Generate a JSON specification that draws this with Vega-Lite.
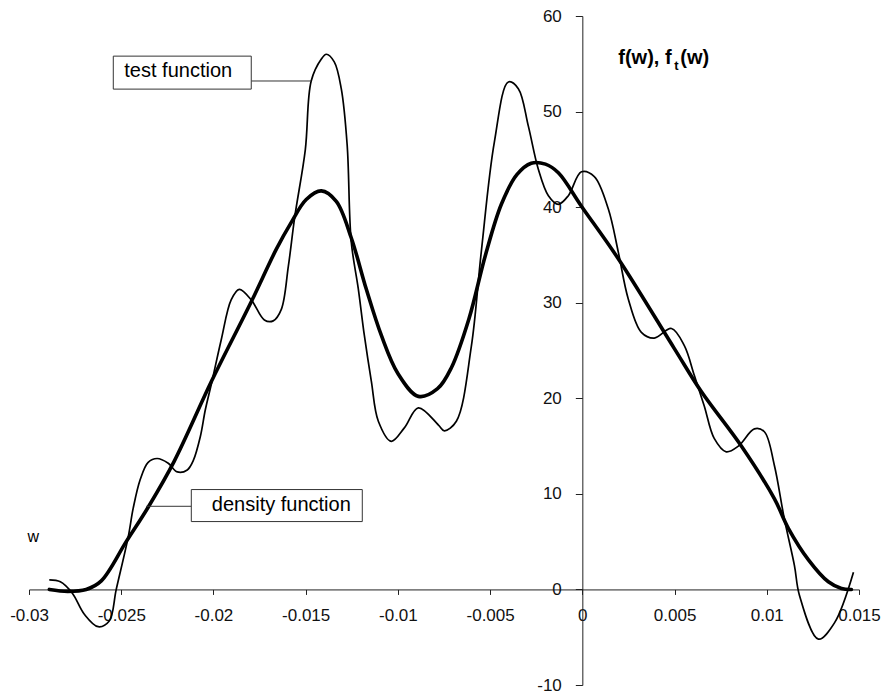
{
  "$schema": "https://vega.github.io/schema/vega-lite/v6.json",
  "width": 830,
  "height": 669,
  "autosize": "none",
  "padding": {"left": 29, "top": 16, "right": 23, "bottom": 10},
  "background": "white",
  "config": {
    "view": {"stroke": null},
    "font": "Liberation Sans",
    "axis": {
      "grid": false,
      "title": null,
      "domainColor": "#222",
      "tickColor": "#222",
      "labelColor": "#111",
      "labelFont": "Liberation Sans",
      "labelFontSize": 17,
      "labelOverlap": false,
      "labelFlush": false
    }
  },
  "datasets": {
    "density": [
      {"w": -0.0289, "f": 0.0},
      {"w": -0.0279, "f": -0.2},
      {"w": -0.0269, "f": 0.0},
      {"w": -0.02608, "f": 0.9},
      {"w": -0.02473, "f": 5.0},
      {"w": -0.02354, "f": 8.6},
      {"w": -0.02213, "f": 13.4},
      {"w": -0.0201, "f": 21.8},
      {"w": -0.01795, "f": 30.1},
      {"w": -0.01659, "f": 35.6},
      {"w": -0.01578, "f": 38.4},
      {"w": -0.01497, "f": 40.8},
      {"w": -0.01415, "f": 41.7},
      {"w": -0.01334, "f": 40.6},
      {"w": -0.01253, "f": 36.8},
      {"w": -0.01171, "f": 31.4},
      {"w": -0.0109, "f": 26.6},
      {"w": -0.01, "f": 22.6},
      {"w": -0.00889, "f": 20.2},
      {"w": -0.00785, "f": 21.0},
      {"w": -0.0071, "f": 23.2},
      {"w": -0.00615, "f": 28.3},
      {"w": -0.00525, "f": 35.0},
      {"w": -0.00439, "f": 40.3},
      {"w": -0.00355, "f": 43.4},
      {"w": -0.00277, "f": 44.6},
      {"w": -0.002, "f": 44.5},
      {"w": -0.0013, "f": 43.6},
      {"w": -0.00005, "f": 40.1},
      {"w": 0.00195, "f": 34.6},
      {"w": 0.00499, "f": 25.2},
      {"w": 0.00645, "f": 20.7},
      {"w": 0.00862, "f": 15.0},
      {"w": 0.01041, "f": 9.5},
      {"w": 0.01117, "f": 6.4},
      {"w": 0.01226, "f": 3.1},
      {"w": 0.01334, "f": 0.8},
      {"w": 0.01405, "f": 0.1},
      {"w": 0.01459, "f": 0.0}
    ],
    "test": [
      {"w": -0.0289, "f": 1.0},
      {"w": -0.0283, "f": 0.8},
      {"w": -0.02765, "f": -0.4},
      {"w": -0.027, "f": -2.6},
      {"w": -0.02625, "f": -3.9},
      {"w": -0.02565, "f": -3.3},
      {"w": -0.02527, "f": 0.0},
      {"w": -0.02462, "f": 5.5},
      {"w": -0.02435, "f": 8.5},
      {"w": -0.02397, "f": 11.5},
      {"w": -0.02354, "f": 13.3},
      {"w": -0.02305, "f": 13.7},
      {"w": -0.02245, "f": 13.2},
      {"w": -0.02196, "f": 12.3},
      {"w": -0.02142, "f": 12.5},
      {"w": -0.02109, "f": 13.5},
      {"w": -0.02071, "f": 16.0},
      {"w": -0.02044, "f": 18.8},
      {"w": -0.0201, "f": 21.6},
      {"w": -0.01958, "f": 26.1},
      {"w": -0.01904, "f": 30.3},
      {"w": -0.0186, "f": 31.4},
      {"w": -0.01795, "f": 30.3},
      {"w": -0.01724, "f": 28.2},
      {"w": -0.01676, "f": 28.1},
      {"w": -0.01632, "f": 29.3},
      {"w": -0.01594, "f": 33.8},
      {"w": -0.01559, "f": 39.0},
      {"w": -0.01502, "f": 46.0},
      {"w": -0.0147, "f": 53.2},
      {"w": -0.01415, "f": 55.5},
      {"w": -0.01388, "f": 56.0},
      {"w": -0.01345, "f": 55.2},
      {"w": -0.01307, "f": 52.4},
      {"w": -0.01275, "f": 46.5},
      {"w": -0.01253, "f": 36.4},
      {"w": -0.01215, "f": 31.5},
      {"w": -0.01182, "f": 26.6},
      {"w": -0.01144, "f": 21.8},
      {"w": -0.01106, "f": 17.6},
      {"w": -0.01036, "f": 15.5},
      {"w": -0.00965, "f": 16.9},
      {"w": -0.00889, "f": 19.0},
      {"w": -0.0078, "f": 17.2},
      {"w": -0.00748, "f": 16.6},
      {"w": -0.00683, "f": 17.6},
      {"w": -0.00602, "f": 25.4},
      {"w": -0.00548, "f": 35.3},
      {"w": -0.00477, "f": 46.8},
      {"w": -0.00401, "f": 53.1},
      {"w": -0.00347, "f": 52.4},
      {"w": -0.00293, "f": 48.5},
      {"w": -0.00239, "f": 44.0},
      {"w": -0.00184, "f": 41.2},
      {"w": -0.0013, "f": 40.3},
      {"w": -0.00076, "f": 41.2},
      {"w": -0.00005, "f": 43.7},
      {"w": 0.00065, "f": 43.2},
      {"w": 0.00141, "f": 39.8},
      {"w": 0.00195, "f": 35.3},
      {"w": 0.00249, "f": 30.4},
      {"w": 0.0032, "f": 26.9},
      {"w": 0.0039, "f": 26.3},
      {"w": 0.00483, "f": 27.3},
      {"w": 0.00553, "f": 25.5},
      {"w": 0.00607, "f": 22.4},
      {"w": 0.00661, "f": 19.2},
      {"w": 0.00715, "f": 15.8},
      {"w": 0.0078, "f": 14.4},
      {"w": 0.00846, "f": 15.0},
      {"w": 0.00933, "f": 16.8},
      {"w": 0.00987, "f": 16.5},
      {"w": 0.01041, "f": 13.0},
      {"w": 0.01095, "f": 7.4},
      {"w": 0.0115, "f": 2.5},
      {"w": 0.01177, "f": -0.6},
      {"w": 0.0128, "f": -5.2},
      {"w": 0.01367, "f": -3.5},
      {"w": 0.0147, "f": 1.8}
    ],
    "boxes": [
      {"x1": -0.02543, "x2": -0.01795, "y1": 52.35, "y2": 55.8},
      {"x1": -0.0212, "x2": -0.01193, "y1": 7.1, "y2": 10.45}
    ],
    "leaders": [
      {"x1": -0.01795, "x2": -0.0147, "y": 53.2},
      {"x1": -0.02365, "x2": -0.0212, "y": 8.7}
    ]
  },
  "layer": [
    {
      "data": {"name": "density"},
      "mark": {"type": "line", "color": "black", "strokeWidth": 3.6, "interpolate": "catmull-rom", "strokeCap": "round", "strokeJoin": "round"},
      "encoding": {
        "x": {
          "field": "w", "type": "quantitative",
          "scale": {"domain": [-0.03, 0.015], "nice": false, "zero": false},
          "axis": {
            "orient": "bottom",
            "offset": -95.571,
            "values": [-0.03, -0.025, -0.02, -0.015, -0.01, -0.005, 0, 0.005, 0.01, 0.015],
            "labelExpr": "replace(format(datum.value, '~g'), '\u2212', '-')",
            "tickSize": 5,
            "labelPadding": 13
          }
        },
        "y": {
          "field": "f", "type": "quantitative",
          "scale": {"domain": [-10, 60], "nice": false, "zero": false},
          "axis": {
            "orient": "left",
            "offset": -553.33,
            "values": [-10, 0, 10, 20, 30, 40, 50, 60],
            "labelExpr": "replace(format(datum.value, '~g'), '\u2212', '-')",
            "tickSize": 7,
            "labelPadding": 14
          }
        }
      }
    },
    {
      "data": {"name": "test"},
      "mark": {"type": "line", "color": "black", "strokeWidth": 1.7, "interpolate": "catmull-rom", "strokeJoin": "round"},
      "encoding": {
        "x": {"field": "w", "type": "quantitative"},
        "y": {"field": "f", "type": "quantitative"}
      }
    },
    {
      "data": {"name": "leaders"},
      "mark": {"type": "rule", "color": "#333", "strokeWidth": 1},
      "encoding": {
        "x": {"field": "x1", "type": "quantitative"},
        "x2": {"field": "x2"},
        "y": {"field": "y", "type": "quantitative"}
      }
    },
    {
      "data": {"name": "boxes"},
      "mark": {"type": "rect", "fill": "white", "stroke": "#333", "strokeWidth": 1},
      "encoding": {
        "x": {"field": "x1", "type": "quantitative"},
        "x2": {"field": "x2"},
        "y": {"field": "y1", "type": "quantitative"},
        "y2": {"field": "y2"}
      }
    },
    {
      "data": {"values": [
        {"x": -0.02191, "y": 53.6, "t": "test function"},
        {"x": -0.01632, "y": 8.25, "t": "density function"}
      ]},
      "mark": {"type": "text", "fontSize": 20, "font": "Liberation Sans", "align": "center", "baseline": "alphabetic", "color": "black"},
      "encoding": {
        "x": {"field": "x", "type": "quantitative"},
        "y": {"field": "y", "type": "quantitative"},
        "text": {"field": "t"}
      }
    },
    {
      "data": {"values": [{"x": -0.02977, "y": 5.0, "t": "w"}]},
      "mark": {"type": "text", "fontSize": 16, "font": "Liberation Sans", "align": "center", "baseline": "alphabetic", "color": "black"},
      "encoding": {
        "x": {"field": "x", "type": "quantitative"},
        "y": {"field": "y", "type": "quantitative"},
        "text": {"field": "t"}
      }
    },
    {
      "data": {"values": [
        {"x": 0.00195, "y": 55.0, "t": "f(w), f"},
        {"x": 0.00531, "y": 55.0, "t": "(w)"}
      ]},
      "mark": {"type": "text", "fontSize": 20, "fontWeight": "bold", "font": "Liberation Sans", "align": "left", "baseline": "alphabetic", "color": "black"},
      "encoding": {
        "x": {"field": "x", "type": "quantitative"},
        "y": {"field": "y", "type": "quantitative"},
        "text": {"field": "t"}
      }
    },
    {
      "data": {"values": [{"x": 0.00499, "y": 54.4, "t": "t"}]},
      "mark": {"type": "text", "fontSize": 13, "fontWeight": "bold", "font": "Liberation Sans", "align": "left", "baseline": "alphabetic", "color": "black"},
      "encoding": {
        "x": {"field": "x", "type": "quantitative"},
        "y": {"field": "y", "type": "quantitative"},
        "text": {"field": "t"}
      }
    }
  ]
}
